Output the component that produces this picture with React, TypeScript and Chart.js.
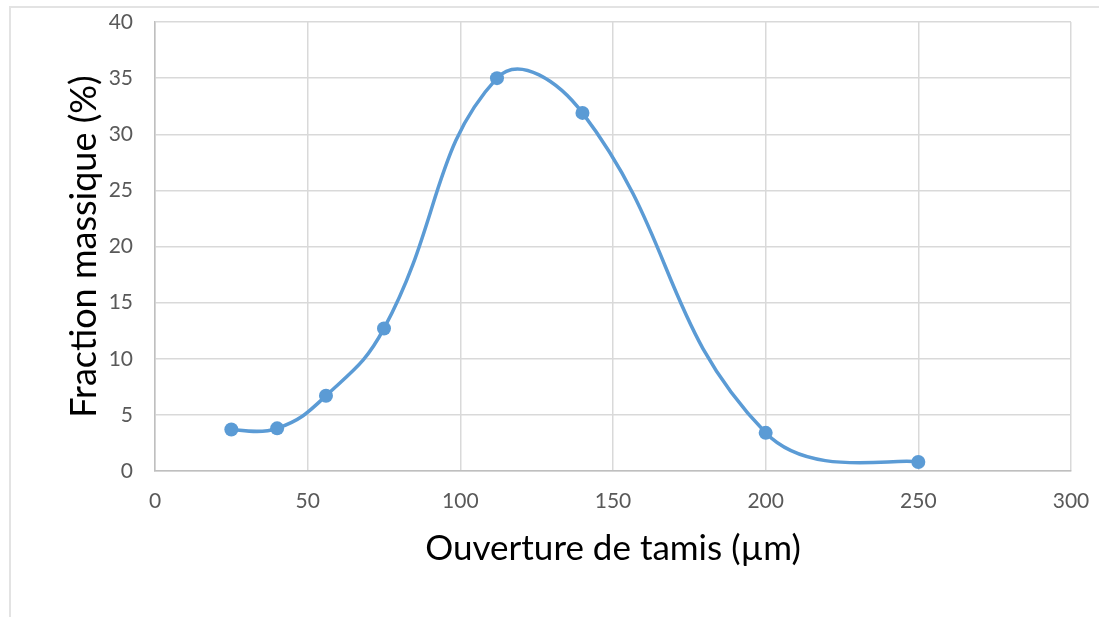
import React, { useEffect, useRef } from "react";
import { Chart, registerables } from "chart.js";

Chart.register(...registerables);

const sieveOpenings = [25, 40, 56, 75, 112, 140, 200, 250];
const massFraction = [3.7, 3.8, 6.7, 12.7, 35.0, 31.9, 3.4, 0.8];
const xTitle = "Ouverture de tamis (µm)";
const yTitle = "Fraction massique (%)";

const SMOOTH_TENSION = 0.44;

// Excel-like smoothing applied to the points that Chart.js placed through its scales
const excelSmooth = {
  id: "excelSmooth",
  beforeDatasetsDraw(chart: any) {
    chart.data.datasets.forEach((_: any, di: number) => {
      const meta = chart.getDatasetMeta(di);
      const line = meta.dataset;
      if (!line) return;
      line.updateControlPoints(chart.chartArea, meta.iScale.axis);
      const pts = meta.data;
      const n = pts.length;
      const dist = (a: any, b: any) => Math.hypot(b.x - a.x, b.y - a.y);
      for (let i = 0; i < n; i++) {
        const p = pts[i];
        if (i === 0) {
          const nx = pts[1];
          p.cp1x = p.x;
          p.cp1y = p.y;
          p.cp2x = p.x + (nx.x - p.x) / 6;
          p.cp2y = p.y + (nx.y - p.y) / 6;
        } else if (i === n - 1) {
          const pv = pts[n - 2];
          p.cp1x = p.x - (p.x - pv.x) / 6;
          p.cp1y = p.y - (p.y - pv.y) / 6;
          p.cp2x = p.x;
          p.cp2y = p.y;
        } else {
          const pv = pts[i - 1];
          const nx = pts[i + 1];
          const d01 = dist(pv, p);
          const d12 = dist(p, nx);
          const s = d01 + d12 || 1;
          const fa = (SMOOTH_TENSION * d01) / s;
          const fb = (SMOOTH_TENSION * d12) / s;
          p.cp1x = p.x - fa * (nx.x - pv.x);
          p.cp1y = p.y - fa * (nx.y - pv.y);
          p.cp2x = p.x + fb * (nx.x - pv.x);
          p.cp2y = p.y + fb * (nx.y - pv.y);
        }
      }
    });
  },
};

export default function App() {
  const canvasRef = useRef<HTMLCanvasElement | null>(null);

  useEffect(() => {
    const canvas = canvasRef.current;
    if (!canvas) return;
    const chart = new Chart(canvas, {
      type: "line",
      data: {
        datasets: [
          {
            data: sieveOpenings.map((x, i) => ({ x, y: massFraction[i] })),
            borderColor: "#5b9bd5",
            backgroundColor: "#5b9bd5",
            borderWidth: 3.5,
            pointRadius: 7,
            pointHoverRadius: 7,
            pointBorderWidth: 0,
            tension: 0.4,
            capBezierPoints: false,
            fill: false,
          },
        ],
      },
      plugins: [excelSmooth],
      options: {
        animation: false,
        responsive: false,
        maintainAspectRatio: false,
        layout: { padding: { left: 0, right: 28, top: 22, bottom: 0 } },
        plugins: {
          legend: { display: false },
          tooltip: { enabled: false },
        },
        scales: {
          x: {
            type: "linear",
            min: 0,
            max: 300,
            ticks: {
              stepSize: 50,
              color: "#595959",
              padding: 18,
              font: { family: "Lato", size: 21 },
              maxRotation: 0,
            },
            grid: { color: "#d9d9d9", lineWidth: 1.5, drawTicks: false },
            border: { color: "#bfbfbf", width: 1.5 },
            title: {
              display: true,
              text: xTitle,
              color: "#000000",
              font: { family: "Lato", size: 35 },
              padding: { top: 0, bottom: 47 },
            },
            afterFit: (scale: any) => {
              scale.height = 146;
              scale.paddingLeft = 0;
              scale.paddingRight = 0;
            },
          },
          y: {
            type: "linear",
            min: 0,
            max: 40,
            ticks: {
              stepSize: 5,
              color: "#595959",
              padding: 22,
              font: { family: "Lato", size: 21 },
            },
            grid: { color: "#d9d9d9", lineWidth: 1.5, drawTicks: false },
            border: { color: "#bfbfbf", width: 1.5 },
            title: {
              display: true,
              text: yTitle,
              color: "#000000",
              font: { family: "Lato", size: 36 },
              padding: { top: 63, bottom: 0 },
            },
            afterFit: (scale: any) => {
              scale.width = 155;
              scale.paddingTop = 0;
              scale.paddingBottom = 0;
            },
          },
        },
      },
    });
    return () => chart.destroy();
  }, []);

  return (
    <div style={{ position: "absolute", left: 0, top: 0, width: 1099, height: 617, background: "#ffffff", overflow: "hidden" }}>
      <div
        style={{
          position: "absolute",
          left: 9,
          top: 6,
          width: 1200,
          height: 800,
          borderLeft: "2px solid #e3e3e3",
          borderTop: "2px solid #e3e3e3",
        }}
      />
      <canvas ref={canvasRef} width={1099} height={617} style={{ position: "absolute", left: 0, top: 0, width: 1099, height: 617 }} />
    </div>
  );
}
